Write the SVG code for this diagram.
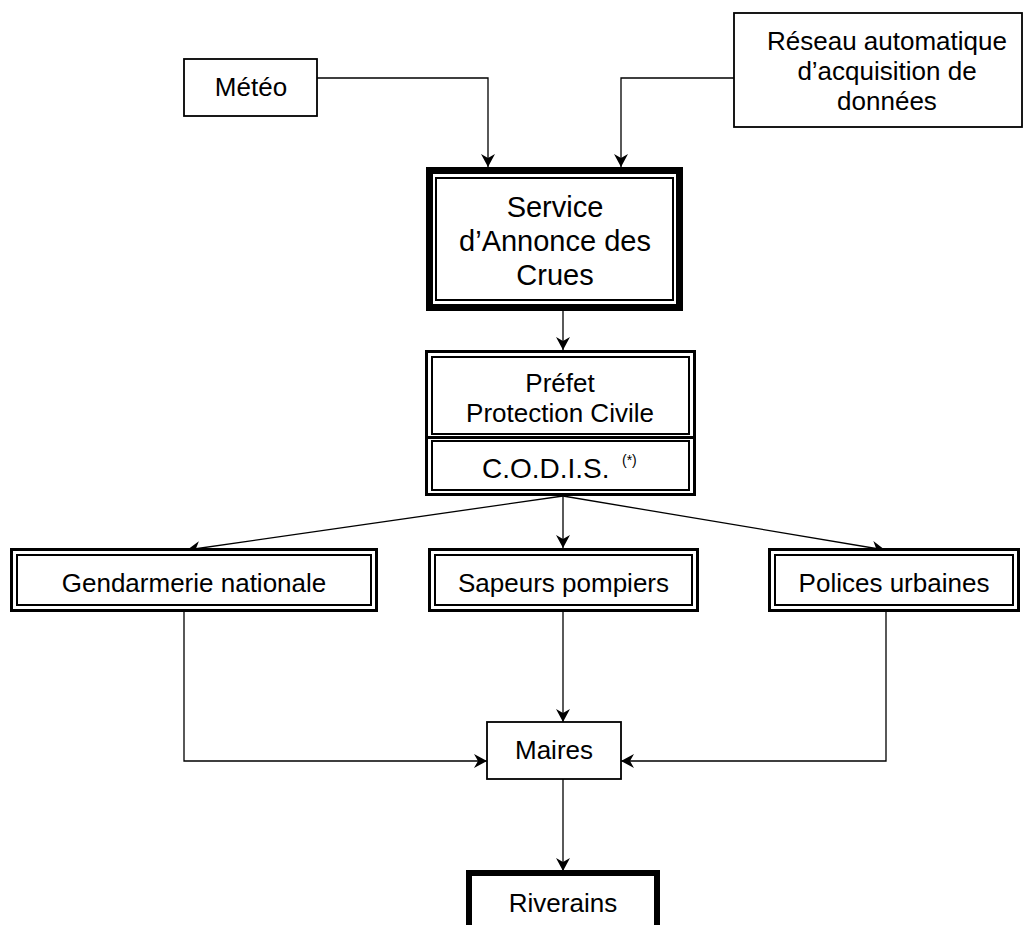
<svg xmlns="http://www.w3.org/2000/svg" width="1024" height="925" viewBox="0 0 1024 925">
<defs>
<style>
.t{font-family:"Liberation Sans",Arial,sans-serif;font-size:26px;fill:#000;text-anchor:middle}
.b{fill:#fff;stroke:#000}
.thin{stroke-width:1.8}
.o3{stroke-width:3;fill:#fff;stroke:#000}
.i2{stroke-width:2;fill:none;stroke:#000}
.c{fill:none;stroke:#000;stroke-width:1.3;marker-end:url(#ah)}
</style>
<marker id="ah" markerUnits="userSpaceOnUse" markerWidth="16" markerHeight="16" viewBox="-15 -8 16 16" refX="0" refY="0" orient="auto">
<path d="M0,0 L-13,-7 L-9,0 L-13,7 Z" fill="#000"/>
</marker>
</defs>
<rect width="1024" height="925" fill="#fff"/>
<g id="connectors">
<polyline class="c" points="317,78 488,78 488,167"/>
<polyline class="c" points="734,78 621,78 621,167"/>
<line class="c" x1="563" y1="311" x2="563" y2="350"/>
<line class="c" x1="563" y1="496" x2="187" y2="550"/>
<line class="c" x1="563" y1="496" x2="563" y2="548"/>
<line class="c" x1="563" y1="496" x2="885" y2="550"/>
<polyline class="c" points="184,612 184,761 487,761"/>
<polyline class="c" points="886,612 886,761 621,761"/>
<line class="c" x1="563" y1="612" x2="563" y2="722"/>
<line class="c" x1="563" y1="779" x2="563" y2="871"/>
</g>
<g id="meteo">
<rect class="b thin" x="184" y="59" width="133" height="57"/>
<text class="t" x="251" y="96">Météo</text>
</g>
<g id="reseau">
<rect class="b thin" x="734" y="13" width="288" height="114"/>
<text class="t" x="887" y="50">Réseau automatique</text>
<text class="t" x="887" y="80">d’acquisition de</text>
<text class="t" x="887" y="110">données</text>
</g>
<g id="service">
<rect class="b" stroke-width="7" x="429.5" y="170.5" width="250" height="137"/>
<rect class="i2" x="436" y="178" width="237" height="122"/>
<text class="t" style="font-size:29px" x="555" y="217">Service</text>
<text class="t" style="font-size:29px" x="555" y="251">d’Annonce des</text>
<text class="t" style="font-size:29px" x="555" y="285">Crues</text>
</g>
<g id="prefet">
<rect class="o3" x="426.5" y="351.5" width="268" height="143"/>
<line x1="425" y1="437.5" x2="696" y2="437.5" stroke="#000" stroke-width="3"/>
<rect class="i2" x="432" y="357" width="257" height="77"/>
<rect class="i2" x="432" y="441" width="257" height="49"/>
<text class="t" x="560" y="392">Préfet</text>
<text class="t" x="560" y="422">Protection Civile</text>
<text class="t" style="text-anchor:start;font-size:28px" x="482" y="478">C.O.D.I.S.</text>
<text class="t" style="text-anchor:start;font-size:14px" x="622" y="465">(*)</text>
</g>
<g id="gendarmerie">
<rect class="o3" x="11.5" y="549.5" width="365" height="61"/>
<rect class="i2" x="17" y="555" width="354" height="50"/>
<text class="t" x="194" y="592">Gendarmerie nationale</text>
</g>
<g id="sapeurs">
<rect class="o3" x="429.5" y="549.5" width="268" height="61"/>
<rect class="i2" x="435" y="555" width="257" height="50"/>
<text class="t" x="563.5" y="592">Sapeurs pompiers</text>
</g>
<g id="polices">
<rect class="o3" x="769.5" y="549.5" width="249" height="61"/>
<rect class="i2" x="775" y="555" width="238" height="50"/>
<text class="t" x="894" y="592">Polices urbaines</text>
</g>
<g id="maires">
<rect class="b thin" x="487" y="722" width="134" height="57"/>
<text class="t" x="554" y="759">Maires</text>
</g>
<g id="riverains">
<rect class="b" stroke-width="6" x="469" y="873" width="188" height="90"/>
<text class="t" x="563" y="912">Riverains</text>
</g>
</svg>
